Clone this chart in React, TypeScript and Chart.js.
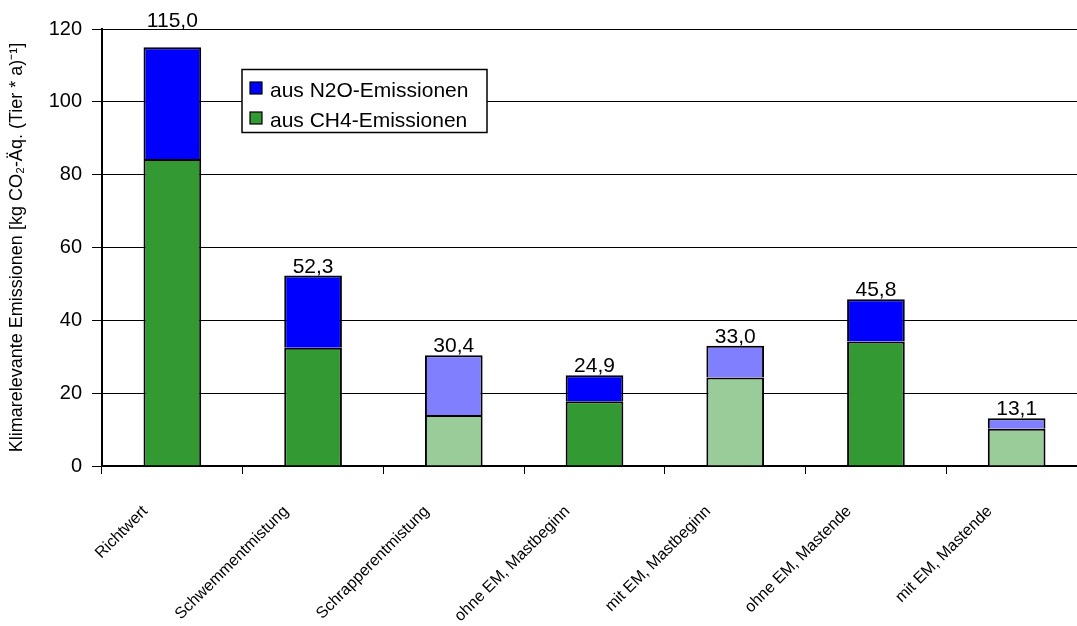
import React, { useEffect, useRef } from "react";
import { Chart, registerables } from "chart.js";

Chart.register(...registerables);

// Categories along the x axis
const categories = [
  "Richtwert",
  "Schwemmentmistung",
  "Schrapperentmistung",
  "ohne EM, Mastbeginn",
  "mit EM, Mastbeginn",
  "ohne EM, Mastende",
  "mit EM, Mastende",
];

// Emission shares per category [kg CO2-Äq. (Tier * a)^-1]
const ch4Values = [84.3, 32.5, 14.0, 17.8, 24.3, 34.2, 10.2];
const n2oValues = [30.7, 19.8, 16.4, 7.1, 8.7, 11.6, 2.9];

// Variants drawn in the lighter shade
const lightShade = [false, false, true, false, true, false, true];

// Y axis range and tick spacing
const yMin = 0;
const yMax = 120;
const yStep = 20;

const seriesNames = ["aus N2O-Emissionen", "aus CH4-Emissionen"];
const yTitle = "Klimarelevante Emissionen [kg CO\u2082-\u00C4q. (Tier * a)\u207B\u00B9]";

const GREEN = "#339933";
const GREEN_LIGHT = "#99CC99";
const BLUE = "#0000FF";
const BLUE_LIGHT = "#8080FF";
const FONT = "Arial, 'Liberation Sans', sans-serif";

const fmt = (v: number) => v.toFixed(1).replace(".", ",");

// Stack totals above each bar plus the boxed legend
const overlayPlugin = {
  id: "overlay",
  afterDraw(chart: any) {
    const ctx = chart.ctx as CanvasRenderingContext2D;
    const area = chart.chartArea;
    const top = chart.getDatasetMeta(1);
    ctx.save();
    ctx.fillStyle = "#000";
    ctx.font = `21px ${FONT}`;
    ctx.textAlign = "center";
    ctx.textBaseline = "alphabetic";
    top.data.forEach((el: any, i: number) => {
      const total = ch4Values[i] + n2oValues[i];
      let y = el.y - 3;
      // keep labels from crossing the top border of the plot
      if (y - 16 < area.top) y = area.top - 2;
      ctx.fillText(fmt(total), el.x, y);
    });

    // legend box
    const bx = 242, by = 69.5, bw = 245, bh = 63;
    ctx.fillStyle = "#fff";
    ctx.fillRect(bx, by, bw, bh);
    ctx.strokeStyle = "#000";
    ctx.lineWidth = 1.5;
    ctx.strokeRect(bx, by, bw, bh);
    const swatches = [BLUE, GREEN];
    ctx.textAlign = "left";
    swatches.forEach((c, k) => {
      const sy = 82 + k * 30;
      ctx.fillStyle = c;
      ctx.fillRect(250, sy, 12, 12);
      ctx.lineWidth = 1.2;
      ctx.strokeRect(250, sy, 12, 12);
      ctx.fillStyle = "#000";
      ctx.fillText(seriesNames[k], 270, sy + 15);
    });
    ctx.restore();
  },
};

export default function App() {
  const canvasRef = useRef<HTMLCanvasElement | null>(null);

  useEffect(() => {
    if (!canvasRef.current) return;
    const chart = new Chart(canvasRef.current, {
      type: "bar",
      data: {
        labels: categories,
        datasets: [
          {
            label: seriesNames[1],
            data: ch4Values,
            backgroundColor: lightShade.map((l) => (l ? GREEN_LIGHT : GREEN)),
            borderColor: "#000",
            borderWidth: 2,
            barPercentage: 0.41,
            categoryPercentage: 1,
          },
          {
            label: seriesNames[0],
            data: n2oValues,
            backgroundColor: lightShade.map((l) => (l ? BLUE_LIGHT : BLUE)),
            borderColor: "#000",
            borderWidth: 2,
            barPercentage: 0.41,
            categoryPercentage: 1,
          },
        ],
      },
      options: {
        responsive: false,
        animation: false,
        devicePixelRatio: 1,
        events: [],
        layout: { padding: { top: 29, left: 0, right: 3, bottom: 0 } },
        plugins: { legend: { display: false }, tooltip: { enabled: false } },
        scales: {
          x: {
            stacked: true,
            afterFit: (s: any) => {
              s.height = 160;
            },
            grid: {
              display: true,
              drawOnChartArea: false,
              drawTicks: true,
              tickLength: 8,
              offset: true,
              color: "#000",
              lineWidth: 1,
            },
            border: { display: true, color: "#000", width: 2 },
            ticks: {
              autoSkip: false,
              maxRotation: 45,
              minRotation: 45,
              labelOffset: -27,
              padding: 28,
              color: "#000",
              font: { family: "'Liberation Sans Narrow', 'Arial Narrow', " + FONT, size: 16 },
            },
          },
          y: {
            stacked: true,
            min: yMin,
            max: yMax,
            afterFit: (s: any) => {
              s.width = 102;
            },
            grid: {
              color: "#000",
              lineWidth: 1,
              drawTicks: true,
              tickLength: 10,
            },
            border: { display: true, color: "#000", width: 2 },
            ticks: {
              stepSize: yStep,
              padding: 10,
              color: "#000",
              font: { family: FONT, size: 20 },
            },
            title: {
              display: true,
              text: yTitle,
              color: "#000",
              font: { family: FONT, size: 18 },
              padding: { top: 6, bottom: 0 },
            },
          },
        },
      },
      plugins: [overlayPlugin],
    });
    return () => chart.destroy();
  }, []);

  return (
    <div
      style={{
        position: "absolute",
        left: 0,
        top: 0,
        width: 1077,
        height: 626,
        overflow: "hidden",
        background: "#fff",
      }}
    >
      <canvas ref={canvasRef} width={1090} height={626} style={{ display: "block" }} />
    </div>
  );
}
